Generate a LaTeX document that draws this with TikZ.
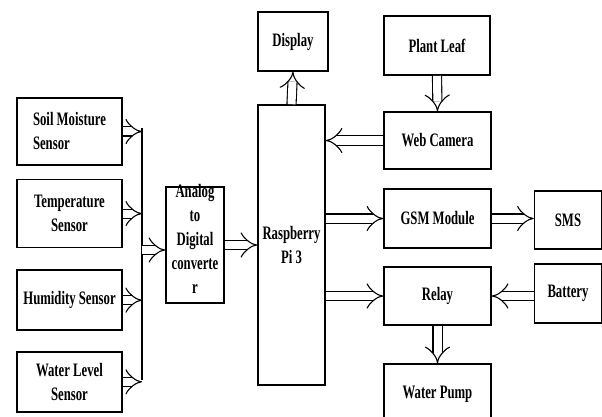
\documentclass[tikz,border=0pt]{standalone}
\usepackage{fontspec}
\setmainfont[FakeStretch=0.67]{Liberation Serif}
\usepackage{tikz}
\usetikzlibrary{arrows.meta, positioning}

\begin{document}
\begin{tikzpicture}[
  x=1pt, y=-1pt,
  node distance=13pt,
  box/.style={rectangle, draw, line width=1.6pt, align=center, inner sep=2pt,
    font=\bfseries\fontsize{19}{24}\selectfont},
  arr/.style={double, double distance=8pt, line width=1.1pt, -{Implies[scale=1.3]}}
]
\useasboundingbox (0,0) rectangle (602,417);
\clip (0,0) rectangle (602,417);

% Sensors
\node[box, align=left, minimum width=105pt, minimum height=67pt] (soil) at (69.5,131.5) {Soil Moisture\\Sensor};
\node[box, minimum width=105pt, minimum height=68pt, below=13pt of soil] (temp) {Temperature\\Sensor};
\node[box, minimum width=105pt, minimum height=60pt, below=21pt of temp] (humid) {Humidity Sensor};
\node[box, minimum width=105pt, minimum height=60pt, below=20pt of humid] (level) {Water Level\\Sensor};

% Bus
\coordinate (busTop) at (142,128);
\coordinate (busBot) at (142,380);

% Converter and controller
\node[box, minimum width=58pt, minimum height=116pt, inner sep=0pt] (adc) at (195,245) {\\[-27pt]Analog\\to\\Digital\\converte\\r};
\node[box, minimum width=67pt, minimum height=280pt] (rpi) at (291.5,245) {Raspberry\\Pi 3};
\node[box, minimum width=70pt, minimum height=59pt] (display) at (293,41.5) {Display};

% Right column
\node[box, minimum width=106pt, minimum height=59pt] (leaf) at (437,45.5) {Plant Leaf};
\node[box, minimum width=107pt, minimum height=57pt] (cam) at (437.5,140.5) {Web Camera};
\node[box, minimum width=107pt, minimum height=59pt] (gsm) at (437.5,218.5) {GSM Module};
\node[box, minimum width=107pt, minimum height=58pt] (relay) at (437.5,296) {Relay};
\node[box, minimum width=107pt, minimum height=60pt] (pump) at (437.5,394) {Water Pump};
\node[box, minimum width=67pt, minimum height=58pt] (sms) at (568,220) {SMS};
\node[box, minimum width=67pt, minimum height=59pt] (battery) at (568,293.5) {Battery};

% Arrows
\draw[line width=1.6pt] (busTop) -- (busBot);
\draw[arr] (soil.east) -- (soil.east -| busTop);
\draw[arr] (temp.east) -- (temp.east -| busTop);
\draw[arr] (humid.east) -- (humid.east -| busTop);
\draw[arr] (level.east) -- (level.east -| busTop);
\draw[arr] ([yshift=-5pt]busTop |- adc.west) -- ([yshift=-5pt]adc.west);

\draw[arr] (adc.east) -- (adc.east -| rpi.west);
\draw[arr] (rpi.north) -- (display.south);
\draw[arr] (leaf.south) -- (cam.north);
\draw[arr] (cam.west) -- (cam.west -| rpi.east);
\draw[arr] (gsm.west -| rpi.east) -- (gsm.west);
\draw[arr] (relay.west -| rpi.east) -- (relay.west);
\draw[arr] (gsm.east) -- (gsm.east -| sms.west);
\draw[arr] (battery.west |- relay.east) -- (relay.east);
\draw[arr] (relay.south) -- (pump.north);

\end{tikzpicture}
\end{document}
